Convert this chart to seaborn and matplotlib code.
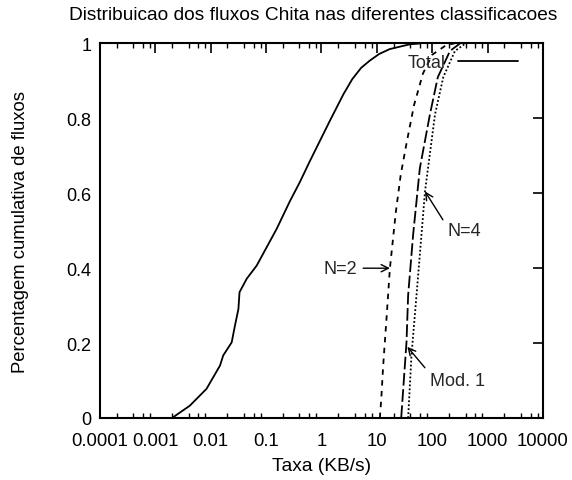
import numpy as np
import pandas as pd
import matplotlib
matplotlib.use("Agg")
import matplotlib.pyplot as plt
import matplotlib.ticker as mticker
import seaborn as sns

# ---- data ----
total_x = [0.0020, 0.0042, 0.0084, 0.0147, 0.0168, 0.0239, 0.0274, 0.0316, 0.0331,
           0.0447, 0.0676, 0.155, 0.269, 0.407, 0.617, 1.41, 2.5, 3.6, 5.2, 7.41,
           11.0, 17.0, 39.8, 60.0]
total_y = [0.0, 0.033, 0.078, 0.14, 0.167, 0.202, 0.247, 0.291, 0.336,
           0.372, 0.407, 0.505, 0.579, 0.630, 0.686, 0.793, 0.865, 0.905, 0.935, 0.954,
           0.972, 0.985, 0.998, 1.0]

n2_x = [11.3, 12.0, 13.0, 15.0, 17.2, 22.0, 27.0, 35.0, 47.0, 68.0, 100.0, 180.0, 250.0]
n2_y = [0.0, 0.05, 0.14, 0.27, 0.40, 0.55, 0.65, 0.74, 0.836, 0.92, 0.97, 0.996, 1.0]

mod1_x = [27.5, 30.0, 34.3, 36.7, 45.2, 59.7, 90.6, 126.0, 209.0, 316.0]
mod1_y = [0.0, 0.08, 0.203, 0.328, 0.49, 0.667, 0.81, 0.91, 0.98, 1.0]

n4_x = [36.7, 42.2, 52.0, 74.0, 79.4, 112.0, 158.0, 257.0, 400.0]
n4_y = [0.0, 0.168, 0.328, 0.605, 0.64, 0.81, 0.91, 0.98, 1.0]

x_ticks = [0.0001, 0.001, 0.01, 0.1, 1, 10, 100, 1000, 10000]
x_tick_labels = ["0.0001", "0.001", "0.01", "0.1", "1", "10", "100", "1000", "10000"]
y_ticks = [0, 0.2, 0.4, 0.6, 0.8, 1.0]
y_tick_labels = ["0", "0.2", "0.4", "0.6", "0.8", "1"]

title = "Distribuicao dos fluxos Chita nas diferentes classificacoes"
xlabel = "Taxa (KB/s)"
ylabel = "Percentagem cumulativa de fluxos"

# ---- style ----
sns.set_theme(style="white")
plt.rcParams["font.family"] = ["Liberation Sans", "DejaVu Sans"]
plt.rcParams["font.size"] = 13

fig = plt.figure(figsize=(5.72, 4.81), dpi=100)
ax = fig.add_axes([0.1748, 0.1289, 0.7745, 0.7786])

df_total = pd.DataFrame({"x": total_x, "y": total_y})
df_n2 = pd.DataFrame({"x": n2_x, "y": n2_y})
df_mod1 = pd.DataFrame({"x": mod1_x, "y": mod1_y})
df_n4 = pd.DataFrame({"x": n4_x, "y": n4_y})

sns.lineplot(data=df_total, x="x", y="y", ax=ax, color="black", lw=1.3,
             estimator=None, sort=False, label="Total")
sns.lineplot(data=df_n2, x="x", y="y", ax=ax, color="black", lw=1.3,
             estimator=None, sort=False, legend=False)
sns.lineplot(data=df_mod1, x="x", y="y", ax=ax, color="black", lw=1.3,
             estimator=None, sort=False, legend=False)
sns.lineplot(data=df_n4, x="x", y="y", ax=ax, color="black", lw=1.3,
             estimator=None, sort=False, legend=False)
lines = ax.get_lines()
lines[1].set_dashes((3, 3))
lines[2].set_dashes((7, 2))
lines[3].set_dashes((1, 1.2))

ax.set_xscale("log")
ax.set_xlim(1e-4, 1e4)
ax.set_ylim(0, 1)
ax.set_xticks(x_ticks)
ax.set_xticklabels(x_tick_labels)
ax.xaxis.set_minor_locator(mticker.LogLocator(base=10, subs=(2, 4, 6, 8), numticks=50))
ax.xaxis.set_minor_formatter(mticker.NullFormatter())
ax.set_yticks(y_ticks)
ax.set_yticklabels(y_tick_labels)

ax.tick_params(axis="both", which="major", direction="in", length=7, width=1.2,
               top=True, right=True, labelsize=13, colors="black", pad=6)
ax.tick_params(axis="x", which="major", pad=10, labelsize=13.3)
ax.tick_params(axis="x", which="minor", direction="in", length=3.5, width=1.0,
               top=True, bottom=True, colors="black")
for s in ax.spines.values():
    s.set_color("black")
    s.set_linewidth(1.5)
    s.set_visible(True)

ax.set_xlabel(xlabel, fontsize=13.8, color="black", labelpad=6)
ax.set_ylabel(ylabel, fontsize=13.3, color="black", labelpad=27)
fig.text(0.547, 0.968, title, ha="center", va="center", fontsize=13.8, color="black")

leg = ax.legend(loc="upper right", bbox_to_anchor=(0.96, 0.99), frameon=False,
                markerfirst=False, handlelength=3.3, fontsize=13, borderaxespad=0,
                handletextpad=0.7)

arrow = dict(arrowstyle="->", color="black", lw=1.0, shrinkA=2, shrinkB=0)
ax.annotate("N=2", xy=(17.2, 0.40), xytext=(4.4, 0.40), ha="right", va="center",
            fontsize=13, arrowprops=dict(arrow, relpos=(1.0, 0.5)))
ax.annotate("N=4", xy=(74.0, 0.605), xytext=(190.0, 0.50), ha="left", va="center",
            fontsize=13, arrowprops=dict(arrow, relpos=(0.0, 0.7)))
ax.annotate("Mod. 1", xy=(35.5, 0.19), xytext=(91.0, 0.10), ha="left", va="center",
            fontsize=13, arrowprops=dict(arrow, relpos=(0.0, 0.9)))

fig.savefig("out.png", dpi=100)
